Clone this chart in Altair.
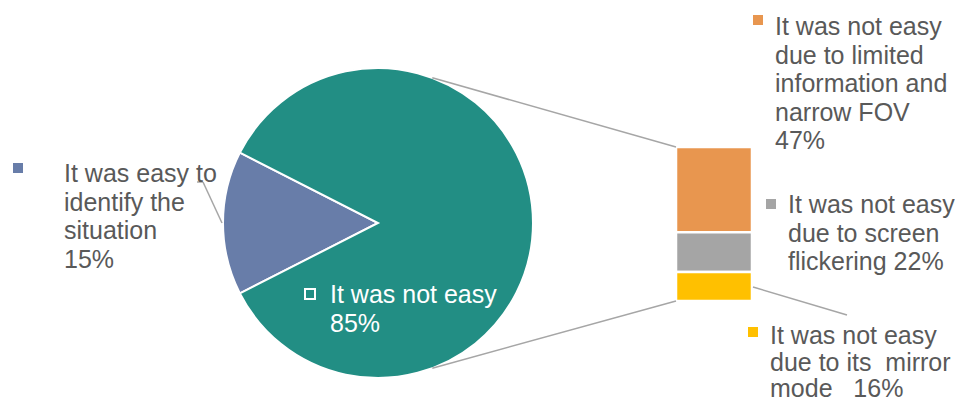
import math
import altair as alt
import pandas as pd

# ---- data ----
pie_categories = ["It was easy to identify the situation", "It was not easy"]
pie_values = [15, 85]
pie_colors = ["#687DA9", "#228E84"]

bar_categories = [
    "It was not easy due to limited information and narrow FOV",
    "It was not easy due to screen flickering",
    "It was not easy due to its  mirror mode",
]
bar_values = [47, 22, 16]
bar_colors = ["#E8964F", "#A5A5A5", "#FFC000"]

NB = "\u00a0"
label_texts = [
    "It was easy to\nidentify the\nsituation\n15%",
    "It was not easy\n85%",
    "It was not easy\ndue to limited\ninformation and\nnarrow FOV\n47%",
    "It was not easy\ndue to screen\nflickering 22%",
    "It was not easy\ndue to its" + NB + " mirror\nmode" + NB + NB + " 16%",
]

# ---- layout (view pixels) ----
W, H = 947, 396
CX, CY, R = 370, 215, 155
BAR_X0, BAR_X1, BAR_TOP, BAR_BOT = 668, 744, 139, 293
start_deg = 270 - pie_values[0] / sum(pie_values) * 180
start = math.radians(start_deg)

FONT = "Liberation Sans"
FS = 25
LH = 28.5
TXT = "#595959"
LINE = "#A6A6A6"

pie_df = pd.DataFrame({"cat": pie_categories, "value": pie_values,
                       "color": pie_colors, "ord": [0, 1]})
bar_df = pd.DataFrame({"cat": bar_categories, "value": bar_values,
                       "color": bar_colors, "ord": [0, 1, 2]})

pie = alt.Chart(pie_df).mark_arc(stroke="white", strokeWidth=2).encode(
    theta=alt.Theta("value:Q", stack=True,
                    scale=alt.Scale(range=[start, start + 2 * math.pi])),
    order=alt.Order("ord:Q"),
    color=alt.Color("color:N", scale=None),
    x=alt.value(CX), y=alt.value(CY), radius=alt.value(R),
)

bar = alt.Chart(bar_df).transform_stack(
    stack="value", as_=["v0", "v1"], groupby=[],
    sort=[alt.SortField("ord", order="descending")],
).mark_bar(stroke="white", strokeWidth=2.5).encode(
    y=alt.Y("v0:Q", axis=None,
            scale=alt.Scale(domain=[0, sum(bar_values)], range=[BAR_BOT, BAR_TOP], nice=False, zero=True)),
    y2="v1:Q",
    color=alt.Color("color:N", scale=None),
    x=alt.value(BAR_X0), x2=alt.value(BAR_X1),
)

# connectors
a_top = math.radians(20.5)
a_bot = math.radians(159.5)
seg_df = pd.DataFrame({
    "x": [CX + R * math.sin(a_top), CX + R * math.sin(a_bot), 189, 195, 745],
    "y": [CY - R * math.cos(a_top), CY - R * math.cos(a_bot), 174, 174, 279],
    "x2": [BAR_X0, BAR_X0, 195, 214, 839],
    "y2": [BAR_TOP, BAR_BOT, 174, 215, 307],
})
segs = alt.Chart(seg_df).mark_rule(color=LINE, strokeWidth=1.5).encode(
    x=alt.X("x:Q", scale=None), y=alt.Y("y:Q", scale=None),
    x2="x2:Q", y2="y2:Q",
)

lab_df = pd.DataFrame({
    "text": label_texts,
    "tx": [56, 322, 767, 780, 762],
    "ty": [174, 295, 27, 205, 336],
    "mx": [10, 302, 750, 763, 745],
    "my": [160, 286, 12, 196, 324],
    "mcolor": [pie_colors[0], "white", bar_colors[0], bar_colors[1], bar_colors[2]],
    "tcolor": [TXT, "white", TXT, TXT, TXT],
    "filled": [True, False, True, True, True],
})
lab_df["text"] = lab_df["text"].str.split("\n")

texts_main = alt.Chart(lab_df.iloc[:4]).mark_text(
    font=FONT, fontSize=FS, align="left", baseline="alphabetic", lineHeight=LH
).encode(
    x=alt.X("tx:Q", scale=None), y=alt.Y("ty:Q", scale=None),
    text="text", color=alt.Color("tcolor:N", scale=None),
)
texts_y = alt.Chart(lab_df.iloc[4:]).mark_text(
    font=FONT, fontSize=FS, align="left", baseline="alphabetic", lineHeight=26.5
).encode(
    x=alt.X("tx:Q", scale=None), y=alt.Y("ty:Q", scale=None),
    text="text", color=alt.Color("tcolor:N", scale=None),
)

markers_f = alt.Chart(lab_df[lab_df["filled"]]).mark_square(size=100, opacity=1).encode(
    x=alt.X("mx:Q", scale=None), y=alt.Y("my:Q", scale=None),
    color=alt.Color("mcolor:N", scale=None),
)
markers_h = alt.Chart(lab_df[~lab_df["filled"]]).mark_point(
    shape="square", size=100, filled=False, strokeWidth=2, opacity=1
).encode(
    x=alt.X("mx:Q", scale=None), y=alt.Y("my:Q", scale=None),
    color=alt.Color("mcolor:N", scale=None),
)

chart = alt.layer(pie, bar, segs, texts_main, texts_y, markers_f, markers_h).resolve_scale(
    x="independent", y="independent"
).properties(
    width=W, height=H, padding=0, autosize="none"
).configure_view(stroke=None)

chart.save("out.html", embed_options={"renderer": "svg", "actions": False})
